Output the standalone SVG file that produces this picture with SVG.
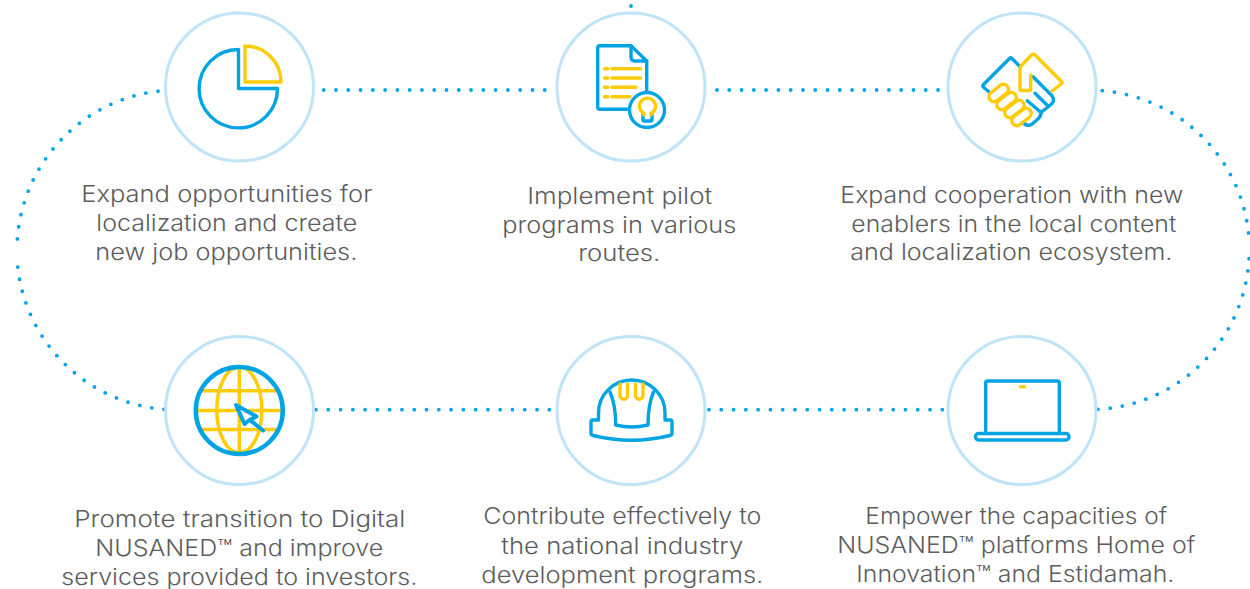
<svg xmlns="http://www.w3.org/2000/svg" width="1250" height="589" viewBox="0 0 1250 589">
<style>
.ring{fill:#fff;stroke:#bfe4f8;stroke-width:3}
.dots{fill:none;stroke:#00a4ea;stroke-width:3.8;stroke-linecap:round;stroke-dasharray:0 12.28}
.b{fill:none;stroke:#00a4e4;stroke-width:3.4;stroke-linecap:round;stroke-linejoin:round}
.y{fill:none;stroke:#ffcb05;stroke-width:3.4;stroke-linecap:round;stroke-linejoin:round}
text{font-family:"Inter","Noto Sans",sans-serif;font-weight:300;font-size:22.5px;fill:#5c5c5c;text-anchor:start;transform:translate(-0.7px,0.7px)}
</style>
<g id="connectors">
<path class="dots" d="M158 91.2A160 160 0 0 0 17 250"/>
<path class="dots" d="M164 409.3A160 160 0 0 1 17 257"/>
<path class="dots" d="M1102.3 90.7A160 160 0 0 1 1249.3 243"/>
<path class="dots" d="M1098 409.3A160 160 0 0 0 1249.3 249.5"/>
<path class="dots" d="M323.7 90H556"/>
<path class="dots" d="M717 90H941"/>
<path class="dots" d="M316 409.7H551"/>
<path class="dots" d="M709 409.7H944"/>
<circle cx="631" cy="6" r="1.9" fill="#00a4ea"/>
</g>
<g id="node-localization">
<circle class="ring" cx="239.5" cy="87" r="74"/>
<path class="b" d="M238.5 49.5A39.2 39.2 0 1 0 277.5 88.5H238.5Z"/>
<path class="y" d="M245 46A36 36 0 0 1 281 82H245Z"/>
<text x="82" y="201" textLength="291" lengthAdjust="spacingAndGlyphs">Expand opportunities for</text>
<text x="97" y="230" textLength="261" lengthAdjust="spacingAndGlyphs">localization and create</text>
<text x="96" y="259.5" textLength="262" lengthAdjust="spacingAndGlyphs">new job opportunities.</text>
</g>
<g id="node-pilot">
<circle class="ring" cx="631" cy="87" r="74"/>
<path class="b" d="M629 109.3H600Q597.7 109.3 597.7 107V48Q597.7 45.7 600 45.7H631L646.7 61V91"/>
<path class="b" d="M631 45.7V57Q631 61 635 61H646.7"/>
<path class="y" d="M604.5 68.7H608M612 68.7H640.5M604.5 78H608M612 78H640.5M604.5 87.3H608M612 87.3H636M604.5 96.7H608M612 96.7H630"/>
<circle class="b" cx="647" cy="110" r="17.5" style="fill:#fff"/>
<path class="b" d="M643 115V119.5Q643 121 644.5 121H650.5Q652 121 652 119.5V115"/>
<path class="y" d="M644 115V113.3A8 8 0 1 1 651 113.3V115"/>
<text x="528" y="203.5" textLength="185" lengthAdjust="spacingAndGlyphs">Implement pilot</text>
<text x="503" y="232.5" textLength="234" lengthAdjust="spacingAndGlyphs">programs in various</text>
<text x="579" y="260.5" textLength="82" lengthAdjust="spacingAndGlyphs">routes.</text>
</g>
<g id="node-cooperation">
<circle class="ring" cx="1022" cy="87" r="74"/>
<path class="b" d="M1020 66.5L1012 58.5Q1010.7 57.3 1009.5 58.5L983.5 84.5Q982 86 983.5 87.3L991 93.5"/>
<path class="b" d="M1033 76.7L1052 95.7Q1055 100 1052 103.5L1048 107Q1044 110 1041.5 112Q1041 116 1038 119L1031.5 124.5Q1027 127 1022.5 122M1035 93.3L1048 106M1027.3 100.7L1040.7 112.3"/>
<rect class="y" x="-11" y="-5" width="22" height="10" rx="5" transform="translate(998.7 93) rotate(-38)" style="fill:#fff"/>
<rect class="y" x="-11" y="-5" width="22" height="10" rx="5" transform="translate(1006.5 101) rotate(-38)" style="fill:#fff"/>
<rect class="y" x="-11" y="-5" width="22" height="10" rx="5" transform="translate(1014.4 109) rotate(-38)" style="fill:#fff"/>
<rect class="y" x="-11" y="-5" width="22" height="10" rx="5" transform="translate(1021.5 117) rotate(-38)" style="fill:#fff"/>
<path class="y" d="M1052 91L1061 84Q1063 83 1061.5 81.5L1035 55Q1033.3 53.5 1031.5 55L1021 66Q1020 67 1020 69V89Q1020 90.5 1021.5 90.5H1029Q1030.7 90.5 1030.7 89V75"/>
<text x="841" y="202" textLength="343" lengthAdjust="spacingAndGlyphs">Expand cooperation with new</text>
<text x="852" y="231" textLength="325" lengthAdjust="spacingAndGlyphs">enablers in the local content</text>
<text x="851" y="259.5" textLength="322" lengthAdjust="spacingAndGlyphs">and localization ecosystem.</text>
</g>
<g id="node-digital">
<circle class="ring" cx="239.5" cy="410.5" r="74"/>
<path class="y" style="stroke-width:3.5;stroke-linecap:butt" d="M239.3 367V454M201.7 390.7H276M198 410.5H281M201.7 429.5H276"/>
<ellipse class="y" style="stroke-width:3.5" cx="239.3" cy="410" rx="22.5" ry="43"/>
<circle class="b" style="stroke-width:4.5" cx="239.3" cy="410.5" r="43.5"/>
<path class="b" style="fill:#fff;stroke-width:4" d="M236 405L256.5 416.5L249.5 420L244.5 424Z"/>
<path class="b" style="stroke-width:4" d="M250.5 420.5L263 430.5"/>
<text x="75" y="526.5" textLength="331" lengthAdjust="spacingAndGlyphs">Promote transition to Digital</text>
<text x="96" y="555.5" textLength="288" lengthAdjust="spacingAndGlyphs">NUSANED™ and improve</text>
<text x="62" y="584.5" textLength="356" lengthAdjust="spacingAndGlyphs">services provided to investors.</text>
</g>
<g id="node-industry">
<circle class="ring" cx="631" cy="410.5" r="74"/>
<path class="b" d="M598.5 420H593Q591 420 591 422V433Q591 435 593 435.5Q631.7 445 670 435.5Q672 435 672 433V422Q672 420 670 420H665V413A33.25 33 0 0 0 598.5 413V420"/>
<path class="b" d="M610 392Q615.7 405 615.7 425Q631.7 429 648 425Q648 405 653.5 392"/>
<path class="y" d="M620 384V395.5A3.75 3.75 0 0 0 627.5 395.5V384M635.5 384V395.5A3.75 3.75 0 0 0 643 395.5V384"/>
<text x="484" y="523.5" textLength="278" lengthAdjust="spacingAndGlyphs">Contribute effectively to</text>
<text x="502" y="553.5" textLength="242" lengthAdjust="spacingAndGlyphs">the national industry</text>
<text x="482" y="582.5" textLength="282" lengthAdjust="spacingAndGlyphs">development programs.</text>
</g>
<g id="node-platforms">
<circle class="ring" cx="1022" cy="410.5" r="74"/>
<path class="b" d="M985.7 433V383Q985.7 381 987.7 381H1057.3Q1059.3 381 1059.3 383V433"/>
<rect class="b" x="975.5" y="433.5" width="93.5" height="6.5" rx="3"/>
<path class="y" d="M1020.5 386.7H1024.5"/>
<text x="866" y="523" textLength="302" lengthAdjust="spacingAndGlyphs">Empower the capacities of</text>
<text x="838" y="552" textLength="358" lengthAdjust="spacingAndGlyphs">NUSANED™ platforms Home of</text>
<text x="857" y="581.5" textLength="318" lengthAdjust="spacingAndGlyphs">Innovation™ and Estidamah.</text>
</g>
</svg>
